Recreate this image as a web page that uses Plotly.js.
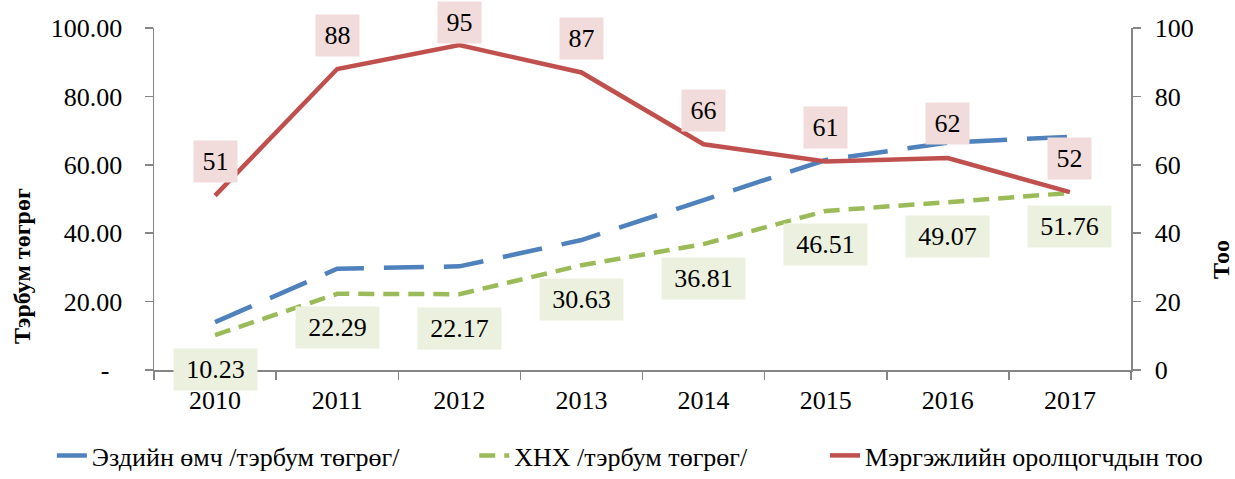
<!DOCTYPE html>
<html>
<head>
<meta charset="utf-8">
<script src="https://cdn.plot.ly/plotly-3.0.1.min.js"></script>
<style>
  html, body { margin: 0; padding: 0; background: #ffffff; }
  #chart { width: 1235px; height: 479px; }
</style>
</head>
<body>
<div id="chart"></div>
<script>
// values
const years = ['2010', '2011', '2012', '2013', '2014', '2015', '2016', '2017'];
const equity = [14.0, 29.6, 30.3, 38.0, 49.7, 61.4, 66.5, 68.2];          // Эздийн өмч (no labels in source)
const fund = [10.23, 22.29, 22.17, 30.63, 36.81, 46.51, 49.07, 51.76];     // ХНХ
const participants = [51, 88, 95, 87, 66, 61, 62, 52];                     // Мэргэжлийн оролцогчдын тоо

const leftTickVals = [0, 20, 40, 60, 80, 100];
const leftTickText = ['-\u00a0\u00a0', '20.00', '40.00', '60.00', '80.00', '100.00'];
const rightTickVals = [0, 20, 40, 60, 80, 100];

const FONT = 'Liberation Serif';
const AXIS_GRAY = '#868686';

const PLOT_LEFT = 154, PLOT_TOP = 28, PLOT_W = 977, PLOT_H = 342;

const traces = [
    {
        x: years, y: equity,
        type: 'scatter', mode: 'lines',
        name: 'Эздийн өмч /тэрбум төгрөг/',
        line: { color: '#4f81bd', width: 4.5, dash: '40px,20px' },
        yaxis: 'y', legend: 'legend'
    },
    {
        x: years, y: fund,
        type: 'scatter', mode: 'lines',
        name: 'ХНХ /тэрбум төгрөг/',
        line: { color: '#9bbb59', width: 4.5, dash: '16px,9px' },
        yaxis: 'y', legend: 'legend2'
    },
    {
        x: years, y: participants,
        type: 'scatter', mode: 'lines',
        name: 'Мэргэжлийн оролцогчдын тоо',
        line: { color: '#c0504d', width: 4.5 },
        yaxis: 'y2', legend: 'legend3'
    }
];

// data labels: participants above the red line (kept inside the chart), fund values below the green one
const annotations = [];
participants.forEach((v, i) => {
    const room = PLOT_TOP + (100 - v) / 100 * PLOT_H - 22;   // label may not leave the picture
    annotations.push({
        x: i, y: v, xref: 'x', yref: 'y2',
        text: String(v), showarrow: false, yshift: Math.min(34, room),
        bgcolor: '#f2dcdb', width: 31, borderpad: 6,
        font: { family: FONT, size: 26, color: '#000000' }
    });
});
fund.forEach((v, i) => {
    annotations.push({
        x: i, y: v, xref: 'x', yref: 'y',
        text: v.toFixed(2), showarrow: false, yshift: -34,
        bgcolor: '#ebf1de', width: 71, borderpad: 6,
        font: { family: FONT, size: 26, color: '#000000' }
    });
});

// axis titles sit lower than centre in the reference, so they are placed as rotated annotations
function pxX(px) { return (px - PLOT_LEFT) / PLOT_W; }
function pxY(py) { return (PLOT_TOP + PLOT_H - py) / PLOT_H; }
annotations.push({
    xref: 'paper', yref: 'paper', x: pxX(22), y: pxY(266),
    xanchor: 'center', yanchor: 'middle',
    text: 'Тэрбум төгрөг', textangle: -90, showarrow: false,
    font: { family: FONT, size: 24, color: '#000000', weight: 'bold' }
});
annotations.push({
    xref: 'paper', yref: 'paper', x: pxX(1221), y: pxY(260),
    xanchor: 'center', yanchor: 'middle',
    text: 'Тоо', textangle: -90, showarrow: false,
    font: { family: FONT, size: 24, color: '#000000', weight: 'bold' }
});

// one legend per series so each entry can sit where the reference has it
function legendAt(left) {
    return {
        orientation: 'h',
        xref: 'container', x: left, xanchor: 'left',
        yref: 'container', y: 0, yanchor: 'bottom',
        font: { family: FONT, size: 26, color: '#000000' },
        bgcolor: 'rgba(0,0,0,0)'
    };
}

const layout = {
    width: 1235,
    height: 479,
    margin: { l: PLOT_LEFT, r: 1235 - PLOT_LEFT - PLOT_W, t: PLOT_TOP, b: 479 - PLOT_TOP - PLOT_H },
    paper_bgcolor: '#ffffff',
    plot_bgcolor: '#ffffff',
    font: { family: FONT, size: 26, color: '#000000' },
    xaxis: {
        type: 'category',
        range: [-0.5, 7.5],
        showline: true, linecolor: AXIS_GRAY, linewidth: 1.5,
        ticks: 'outside', tickson: 'boundaries', ticklen: 8, tickcolor: AXIS_GRAY, tickwidth: 1.5,
        ticklabelstandoff: 6,
        showgrid: false, zeroline: false,
        tickfont: { family: FONT, size: 26, color: '#000000' }
    },
    yaxis: {
        range: [0, 100],
        tickvals: leftTickVals, ticktext: leftTickText,
        showline: true, linecolor: AXIS_GRAY, linewidth: 1.5,
        ticks: 'outside', ticklen: 8, tickcolor: AXIS_GRAY, tickwidth: 1.5,
        ticklabelstandoff: 17,
        showgrid: false, zeroline: false,
        tickfont: { family: FONT, size: 26, color: '#000000' }
    },
    yaxis2: {
        range: [0, 100],
        overlaying: 'y', side: 'right',
        tickvals: rightTickVals,
        showline: true, linecolor: AXIS_GRAY, linewidth: 1.5,
        ticks: 'outside', ticklen: 8, tickcolor: AXIS_GRAY, tickwidth: 1.5,
        ticklabelstandoff: 9,
        showgrid: false, zeroline: false,
        tickfont: { family: FONT, size: 26, color: '#000000' }
    },
    showlegend: true,
    legend: legendAt(0.042),
    legend2: legendAt(0.384),
    legend3: legendAt(0.668),
    annotations: annotations
};

Plotly.newPlot('chart', traces, layout, { displayModeBar: false, staticPlot: true });
</script>
</body>
</html>
